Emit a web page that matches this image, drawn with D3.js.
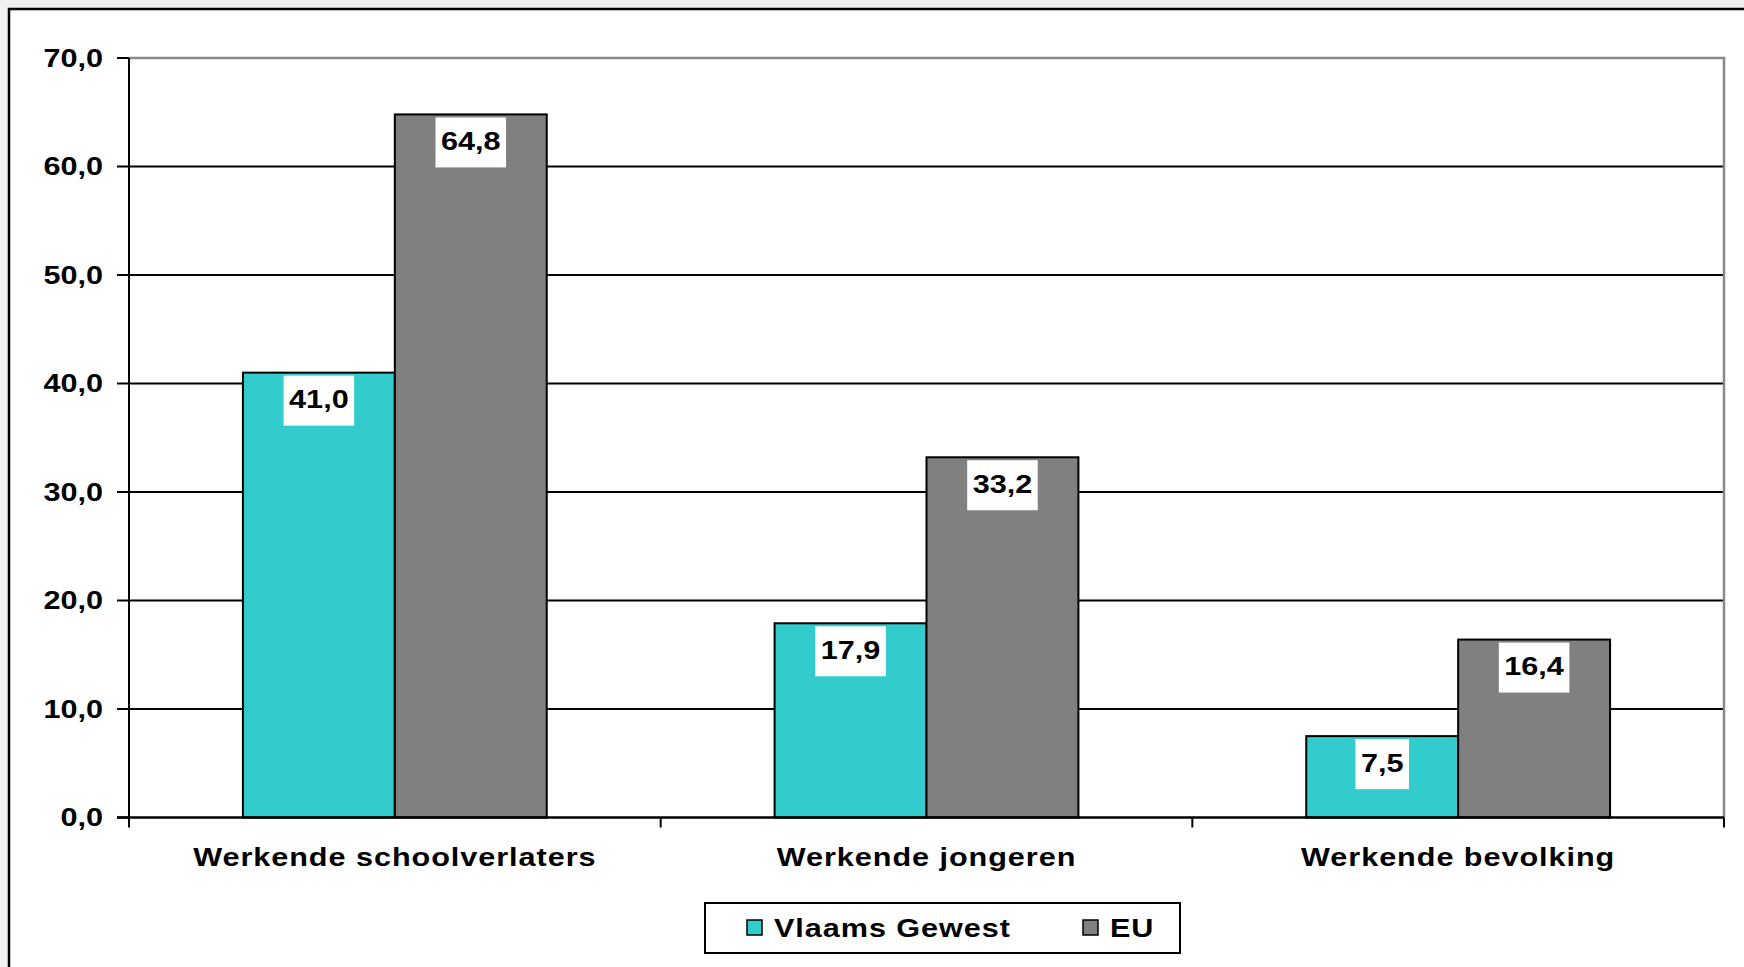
<!DOCTYPE html>
<meta charset="utf-8">

<style>
body {
  margin: 0;
  background: #f0f0f0;
}
svg text {
  font-family: "Liberation Sans", Arial, sans-serif;
  font-weight: bold;
  font-size: 25.5px;
  fill: #000;
}
svg text.spaced {
  letter-spacing: 0.8px;
}
</style>

<body>
</body>

<script src="https://d3js.org/d3.v7.min.js"></script>
<script>

var categories = ["Werkende schoolverlaters", "Werkende jongeren", "Werkende bevolking"];
var seriesNames = ["Vlaams Gewest", "EU"];
var vlaams = [41.0, 17.9, 7.5];
var eu = [64.8, 33.2, 16.4];
var yTicks = [0, 10, 20, 30, 40, 50, 60, 70];

var colors = ["#33cccc", "#808080"];
var stretch = 1.2;   // the original text is drawn wider than normal

var width = 1744;
var height = 967;
var margin = {left: 129, right: 20, top: 58, bottom: 149.5};

var svg = d3.select("body").append("svg")
    .attr("width", width)
    .attr("height", height);

// white chart area with its frame (runs off the right and bottom)
svg.append("rect")
    .attr("x", 9)
    .attr("y", 9)
    .attr("width", width + 50)
    .attr("height", height + 50)
    .attr("fill", "#fff")
    .attr("stroke", "#000")
    .attr("stroke-width", 2.5);

var x0 = d3.scaleBand()
    .domain(categories)
    .range([margin.left, width - margin.right]);

// Excel style: gap width 150% of one bar
var x1 = d3.scaleBand()
    .domain(seriesNames)
    .range([0, x0.bandwidth()])
    .paddingOuter(0.75)
    .paddingInner(0);

var y = d3.scaleLinear()
    .domain([0, 70])
    .range([height - margin.bottom, margin.top]);

function stretchedText(sel, tx, ty, str, anchor) {
  return sel.append("text")
      .attr("transform", "translate(" + tx + "," + ty + ") scale(" + stretch + ",1)")
      .attr("text-anchor", anchor)
      .attr("dominant-baseline", "central")
      .text(str);
}

var fmt = function(v) { return v.toFixed(1).replace(".", ","); };

// gridlines
svg.append("g")
  .selectAll("line")
  .data(yTicks.filter(function(d) { return d > 0 && d < 70; }))
  .enter().append("line")
    .attr("x1", margin.left)
    .attr("x2", width - margin.right)
    .attr("y1", function(d) { return y(d); })
    .attr("y2", function(d) { return y(d); })
    .attr("stroke", "#000")
    .attr("stroke-width", 2);

// plot area border (top and right, gray)
svg.append("path")
    .attr("d", "M" + margin.left + "," + y(70) + "H" + (width - margin.right) + "V" + y(0))
    .attr("fill", "none")
    .attr("stroke", "#888")
    .attr("stroke-width", 2.5);

// bars
var rows = categories.map(function(c, i) {
  return {cat: c, values: [vlaams[i], eu[i]]};
});

var group = svg.append("g")
  .selectAll("g")
  .data(rows)
  .enter().append("g")
    .attr("transform", function(d) { return "translate(" + x0(d.cat) + ",0)"; });

var bar = group.selectAll("g")
  .data(function(d) {
    return d.values.map(function(v, j) { return {name: seriesNames[j], value: v, j: j}; });
  })
  .enter().append("g");

bar.append("rect")
    .attr("x", function(d) { return x1(d.name); })
    .attr("y", function(d) { return y(d.value); })
    .attr("width", x1.bandwidth())
    .attr("height", function(d) { return y(0) - y(d.value); })
    .attr("fill", function(d) { return colors[d.j]; })
    .attr("stroke", "#000")
    .attr("stroke-width", 2);

// data labels in white boxes
bar.each(function(d) {
  var g = d3.select(this);
  var cx = x1(d.name) + x1.bandwidth() / 2;
  var top = y(d.value) + 3;
  var box = g.append("rect")
      .attr("fill", "#fff");
  var t = stretchedText(g, cx, top + 24, fmt(d.value), "middle");
  var w = t.node().getComputedTextLength() * stretch + 11;
  box.attr("x", cx - w / 2)
      .attr("y", top)
      .attr("width", w)
      .attr("height", 50);
});

// y axis
var yAxis = svg.append("g");
yAxis.append("line")
    .attr("x1", margin.left).attr("x2", margin.left)
    .attr("y1", y(70)).attr("y2", y(0) + 1)
    .attr("stroke", "#000")
    .attr("stroke-width", 2);
yAxis.selectAll(".tick")
  .data(yTicks)
  .enter().append("line")
    .attr("x1", margin.left - 12)
    .attr("x2", margin.left)
    .attr("y1", function(d) { return y(d); })
    .attr("y2", function(d) { return y(d); })
    .attr("stroke", "#000")
    .attr("stroke-width", 2);
yTicks.forEach(function(d) {
  stretchedText(yAxis, margin.left - 26, y(d), fmt(d), "end");
});

// x axis
var xAxis = svg.append("g");
xAxis.append("line")
    .attr("x1", margin.left - 12)
    .attr("x2", width - margin.right)
    .attr("y1", y(0)).attr("y2", y(0))
    .attr("stroke", "#000")
    .attr("stroke-width", 2.5);
var bounds = categories.map(function(c) { return x0(c); }).concat([x0.range()[1]]);
xAxis.selectAll(".tick")
  .data(bounds)
  .enter().append("line")
    .attr("x1", function(d) { return d; })
    .attr("x2", function(d) { return d; })
    .attr("y1", y(0))
    .attr("y2", y(0) + 10)
    .attr("stroke", "#000")
    .attr("stroke-width", 2);
categories.forEach(function(c) {
  stretchedText(xAxis, x0(c) + x0.bandwidth() / 2, y(0) + 40, c, "middle")
      .attr("class", "spaced");
});

// legend
var legend = svg.append("g");
legend.append("rect")
    .attr("x", 705)
    .attr("y", 903)
    .attr("width", 475)
    .attr("height", 50)
    .attr("fill", "#fff")
    .attr("stroke", "#000")
    .attr("stroke-width", 2);
var legendX = [747, 1083];
seriesNames.forEach(function(s, i) {
  legend.append("rect")
      .attr("x", legendX[i])
      .attr("y", 920)
      .attr("width", 15)
      .attr("height", 15)
      .attr("fill", colors[i])
      .attr("stroke", "#000")
      .attr("stroke-width", 1.5);
  stretchedText(legend, legendX[i] + 27, 928, s, "start")
      .attr("class", "spaced");
});

</script>
